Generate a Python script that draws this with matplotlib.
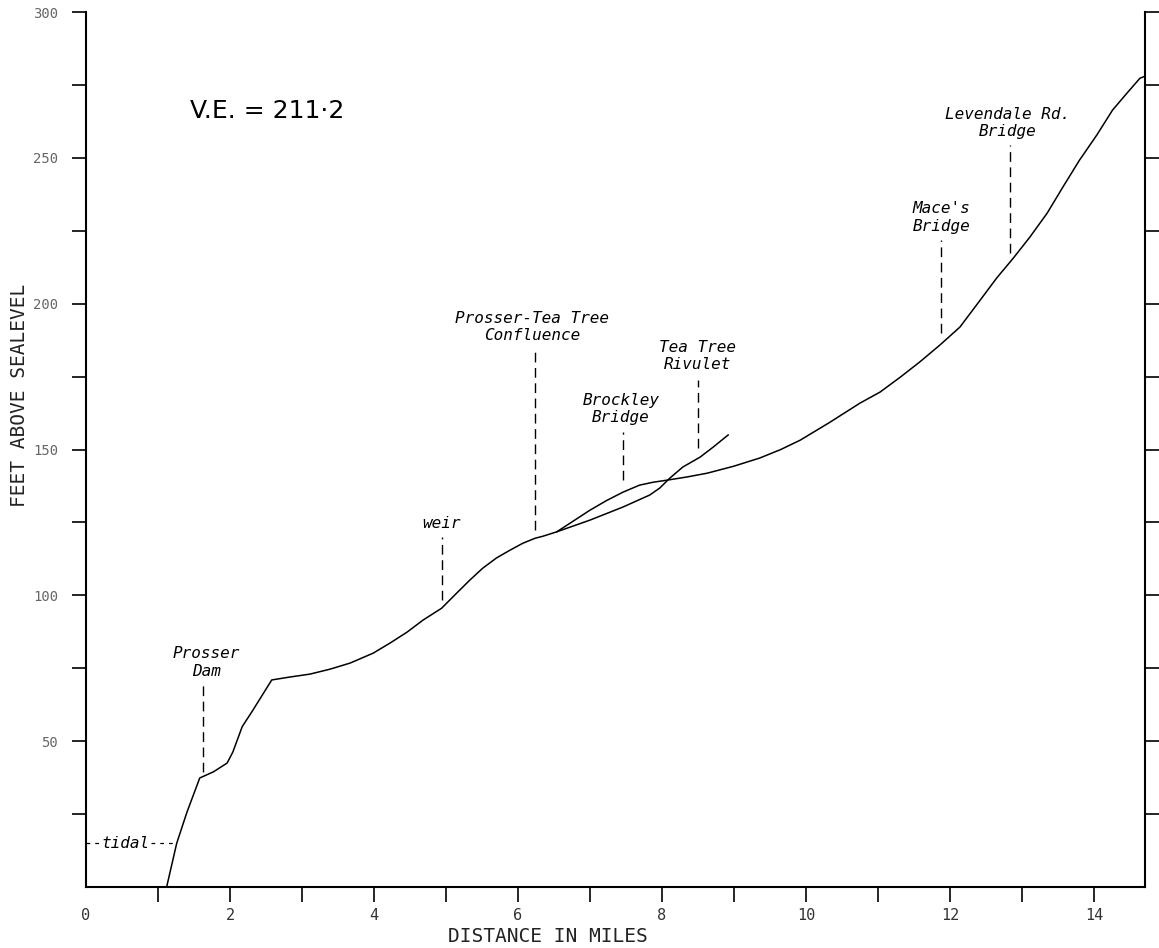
import matplotlib.pyplot as plt

# main river profile (distance in miles, height in feet)
river_miles = [1.12, 1.26, 1.40, 1.58, 1.77, 1.96, 2.04, 2.17, 2.32, 2.58, 2.83, 3.11,
               3.39, 3.67, 3.99, 4.22, 4.46, 4.68, 4.94, 5.15, 5.33, 5.51, 5.70, 5.89,
               6.07, 6.24, 6.35, 6.54, 7.00, 7.23, 7.46, 7.69, 7.88, 8.07, 8.35, 8.63,
               9.00, 9.36, 9.65, 9.92, 10.33, 10.75, 11.03, 11.31, 11.58, 11.86, 12.14,
               12.42, 12.65, 12.88, 13.11, 13.35, 13.57, 13.80, 14.04, 14.26, 14.46,
               14.64, 14.71]
river_feet = [0.0, 15.0, 25.5, 37.4, 39.5, 42.5, 46.3, 55.0, 60.7, 71.0, 72.0, 73.0,
              74.7, 76.8, 80.2, 83.6, 87.4, 91.5, 95.6, 100.8, 105.2, 109.3, 112.8, 115.5,
              117.9, 119.6, 120.3, 121.8, 129.2, 132.5, 135.4, 137.8, 138.8, 139.5, 140.6, 141.9,
              144.3, 147.1, 150.0, 153.2, 159.3, 165.9, 169.7, 174.8, 180.0, 185.8, 192.0,
              201.2, 208.8, 215.6, 222.8, 231.0, 240.0, 249.2, 257.8, 266.4, 272.2,
              277.3, 278.0]

# Tea Tree Rivulet branch
rivulet_miles = [6.54, 7.00, 7.46, 7.83, 7.97, 8.11, 8.29, 8.53, 8.71, 8.92]
rivulet_feet = [121.8, 125.8, 130.3, 134.4, 136.8, 140.2, 144.0, 147.4, 150.8, 155.0]

# features along the river: label, mile, foot of marker, top of marker, label centre
feature_names = ['Prosser\nDam', 'weir', 'Prosser-Tea Tree\nConfluence', 'Brockley\nBridge',
                 'Tea Tree\nRivulet', "Mace's\nBridge", 'Levendale Rd.\nBridge']
feature_miles = [1.63, 4.94, 6.24, 7.46, 8.50, 11.87, 12.83]
marker_low = [39.4, 98.4, 122.4, 139.5, 150.5, 190.0, 217.3]
marker_high = [70.0, 120.0, 184.0, 156.0, 174.0, 221.8, 254.4]
label_x = [1.67, 4.94, 6.20, 7.43, 8.50, 11.88, 12.80]
label_y = [77.0, 124.8, 192.0, 164.0, 182.0, 229.5, 262.0]

tidal_level = 15

fig = plt.figure(figsize=(11.59, 9.48), dpi=100)
ax = fig.add_axes([0.0742, 0.0643, 0.9137, 0.923])

ax.plot(river_miles, river_feet, color='black', lw=1.1)
ax.plot(rivulet_miles, rivulet_feet, color='black', lw=1.1)

label_font = dict(family='DejaVu Sans Mono', style='oblique', fontsize=11.5)
for name, x, lo, hi, lx, ly in zip(feature_names, feature_miles, marker_low, marker_high,
                                   label_x, label_y):
    ax.plot([x, x], [lo, hi], color='black', lw=1.0, linestyle=(0, (7, 4)))
    ax.text(lx, ly, name, ha='center', va='center', linespacing=1.2, **label_font)

# tidal limit
ax.plot([0, 0.2], [tidal_level, tidal_level], color='black', lw=0.9, linestyle=(0, (3, 4)))
ax.plot([0.9, 1.24], [tidal_level, tidal_level], color='black', lw=0.9, linestyle=(0, (3, 4)))
ax.text(0.55, tidal_level, 'tidal', ha='center', va='center', **label_font)

ax.text(2.51, 266, 'V.E. = 211·2', ha='center', va='center', fontsize=18,
        family='DejaVu Sans')

ax.set_xlim(0, 14.71)
ax.set_ylim(0, 300)

ax.set_xticks(range(0, 15))
ax.set_xticklabels([str(i) if i % 2 == 0 else '' for i in range(0, 15)])
ax.set_yticks(range(0, 301, 25))
ax.set_yticklabels([str(v) if v % 50 == 0 and v > 0 else '' for v in range(0, 301, 25)])

ax.spines['top'].set_visible(False)
for side in ['left', 'bottom', 'right']:
    ax.spines[side].set_linewidth(1.5)

ax.tick_params(axis='x', direction='out', length=11, width=1.2, pad=4,
               labelsize=11, labelcolor='#333333')
ax.tick_params(axis='y', direction='out', length=10, width=1.2, pad=10,
               labelsize=10, labelcolor='#666666', right=True)
for lab in ax.get_xticklabels() + ax.get_yticklabels():
    lab.set_family('DejaVu Sans Mono')

# no tick marks at the corners
ax.xaxis.get_major_ticks()[0].tick1line.set_visible(False)
ax.yaxis.get_major_ticks()[0].tick1line.set_visible(False)
ax.yaxis.get_major_ticks()[0].tick2line.set_visible(False)

ax.set_xlabel('DISTANCE IN MILES', fontsize=14, family='DejaVu Sans Mono', color='#222222')
ax.xaxis.set_label_coords(0.436, -0.046)
ax.set_ylabel('FEET ABOVE SEALEVEL', fontsize=14, family='DejaVu Sans Mono', color='#222222')
ax.yaxis.set_label_coords(-0.054, 0.562)

fig.savefig('out.png', dpi=100)
